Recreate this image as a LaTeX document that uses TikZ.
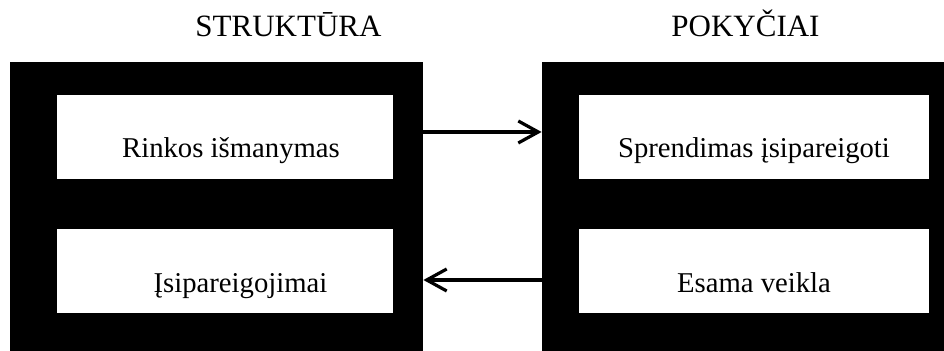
\documentclass[tikz,border=0pt]{standalone}
\usepackage{fontspec}
\setmainfont{Liberation Serif}
\usetikzlibrary{arrows.meta}
\begin{document}
\begin{tikzpicture}[x=0.5pt,y=-0.5pt,
  outerbox/.style={fill=black,draw=none,inner sep=0pt,minimum height=144.5pt},
  innerbox/.style={fill=white,draw=none,inner sep=0pt,minimum height=42pt},
  title/.style={anchor=base,inner sep=0pt,font=\fontsize{15.5pt}{18pt}\selectfont},
  label/.style={anchor=base,inner sep=0pt,font=\fontsize{14.35pt}{17pt}\selectfont},
  arr/.style={-{Straight Barb[length=10pt,width=11pt,line width=1.6pt]},line width=1.6pt}]
\useasboundingbox (0,0) rectangle (944,351);
\fill[white] (0,0) rectangle (944,351);
% outer black boxes
\node[outerbox,minimum width=206.5pt] (lblack) at (216.5,206.5) {};
\node[outerbox,minimum width=201pt] (rblack) at (743,206.5) {};
% inner white boxes
\node[innerbox,minimum width=168pt] (lw1) at (225,137) {};
\node[innerbox,minimum width=168pt] (lw2) at (225,271) {};
\node[innerbox,minimum width=175pt] (rw1) at (754,137) {};
\node[innerbox,minimum width=175pt] (rw2) at (754,271) {};
% titles
\node[title] (t1) at (288.5,37) {STRUKTŪRA};
\node[title] (t2) at (745.5,37) {POKYČIAI};
% labels
\node[label] (l1) at (231,158) {Rinkos išmanymas};
\node[label] (l2) at (240.5,293) {Įsipareigojimai};
\node[label] (l3) at (754,158) {Sprendimas įsipareigoti};
\node[label] (l4) at (754,293) {Esama veikla};
% arrows
\coordinate (ya) at (0,132);
\coordinate (yb) at (0,280);
\draw[arr] (lblack.east |- ya) -- (rblack.west |- ya);
\draw[arr] (rblack.west |- yb) -- (lblack.east |- yb);
\end{tikzpicture}
\end{document}
